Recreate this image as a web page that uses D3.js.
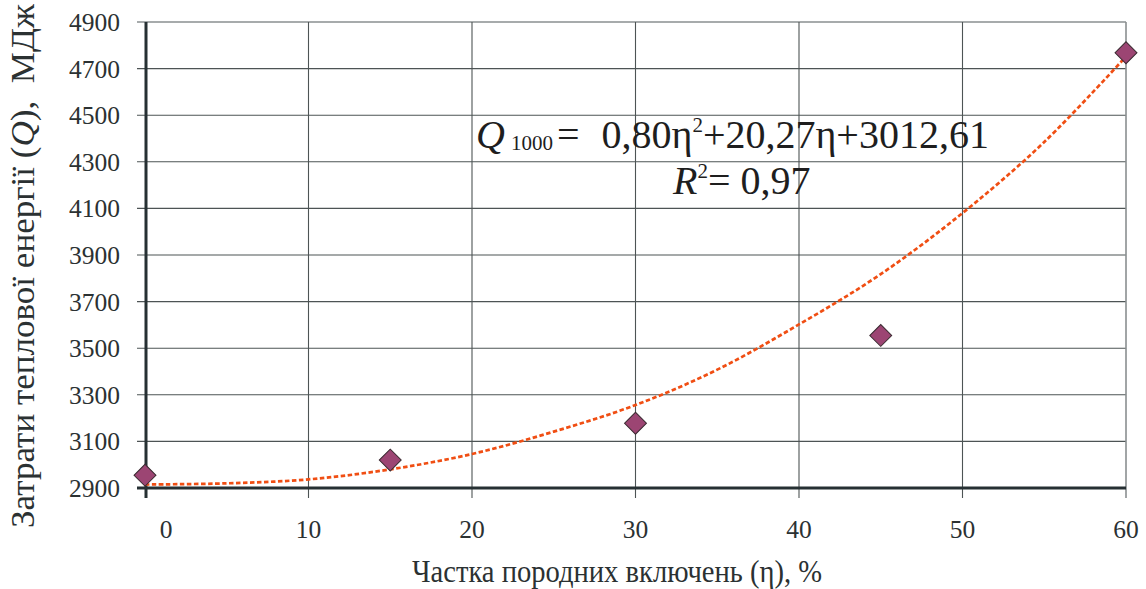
<!DOCTYPE html>
<html>
<head>
<meta charset="utf-8">
<script src="https://cdn.jsdelivr.net/npm/d3@7"></script>
<style>
  html, body { margin: 0; padding: 0; background: #fff; }
</style>
</head>
<body>
<svg id="chart" width="1146" height="589"></svg>
<script>
// ---- data ----
const etaValues = [0, 15, 30, 45, 60];
const qValues = [2955, 3020, 3178, 3555, 4768];
const trendEta = [0, 5, 10, 15, 20, 25, 30, 35, 40, 45, 50, 55, 60];
const trendQ = [2915, 2920, 2937, 2980, 3046, 3142, 3256, 3408, 3602, 3818, 4080, 4385, 4752];
const xTicks = [0, 10, 20, 30, 40, 50, 60];
const yTicks = [2900, 3100, 3300, 3500, 3700, 3900, 4100, 4300, 4500, 4700, 4900];
const xTitle = "Частка породних включень (η), %";

const FONT = "Liberation Serif";
const TXT = "#2b3132";
const svg = d3.select("#chart");
const x = d3.scaleLinear().domain([0, 60]).range([145, 1126]);
const y = d3.scaleLinear().domain([2900, 4900]).range([488, 22]);

// gridlines (extend outward as ticks)
const grid = svg.append("g");
grid.selectAll("line.h").data(yTicks).join("line")
  .attr("x1", 137).attr("x2", x(60))
  .attr("y1", d => y(d)).attr("y2", d => y(d))
  .attr("stroke", d => d === 4900 ? "#8a8f90" : "#4d5455")
  .attr("stroke-width", d => d === 4900 ? 1.6 : 1.1);
grid.selectAll("line.v").data(xTicks.filter(d => d > 0)).join("line")
  .attr("x1", d => x(d)).attr("x2", d => x(d))
  .attr("y1", y(4900)).attr("y2", 498)
  .attr("stroke", d => d === 60 ? "#8a8f90" : "#4d5455")
  .attr("stroke-width", d => d === 60 ? 1.6 : 1.1);

// axes lines
svg.append("line").attr("x1", 137).attr("x2", x(60)).attr("y1", y(2900)).attr("y2", y(2900))
  .attr("stroke", "#263033").attr("stroke-width", 3);
svg.append("line").attr("x1", x(0) + 1).attr("x2", x(0) + 1).attr("y1", y(4900)).attr("y2", 498)
  .attr("stroke", "#263033").attr("stroke-width", 3);

// tick labels
svg.append("g").selectAll("text").data(yTicks).join("text")
  .attr("font-family", FONT).attr("fill", TXT)
  .attr("x", 120).attr("y", d => y(d)).attr("dy", "0.35em")
  .attr("text-anchor", "end").attr("font-size", 25.5)
  .text(d => d);
svg.append("g").selectAll("text").data(xTicks).join("text")
  .attr("font-family", FONT).attr("fill", TXT)
  .attr("x", d => x(d) + (d === 0 ? 21 : 0)).attr("y", 538)
  .attr("text-anchor", "middle").attr("font-size", 25.5)
  .text(d => d);

// axis titles
svg.append("text")
  .attr("font-family", FONT).attr("fill", TXT)
  .attr("x", 617).attr("y", 582).attr("text-anchor", "middle")
  .attr("font-size", 32).attr("textLength", 410).attr("lengthAdjust", "spacingAndGlyphs")
  .text(xTitle);

const yt = svg.append("text")
  .attr("font-family", FONT).attr("fill", TXT)
  .attr("transform", "translate(34,266) rotate(-90)")
  .attr("text-anchor", "middle").attr("font-size", 33)
  .attr("textLength", 524).attr("lengthAdjust", "spacingAndGlyphs")
  .attr("xml:space", "preserve");
yt.append("tspan").text("Затрати теплової енергії (");
yt.append("tspan").attr("font-style", "italic").text("Q");
yt.append("tspan").text("),  МДж");

// trend line
const line = d3.line().x((d, i) => x(trendEta[i])).y(d => y(d)).curve(d3.curveCatmullRom);
svg.append("path").datum(trendQ).attr("d", line)
  .attr("fill", "none").attr("stroke", "#f04e13").attr("stroke-width", 2.7)
  .attr("stroke-dasharray", "4.5,2.5");

// markers
const sym = d3.symbol().type(d3.symbolSquare).size(240);
svg.append("g").selectAll("path").data(qValues).join("path")
  .attr("d", sym)
  .attr("transform", (d, i) => `translate(${x(etaValues[i])},${y(d)}) rotate(45)`)
  .attr("fill", "#9c4573").attr("stroke", "#3a2a30").attr("stroke-width", 1);

// equation
const eq1 = svg.append("text").attr("font-family", FONT).attr("fill", "#1e1e1e")
  .attr("x", 476).attr("y", 148).attr("font-size", 40);
eq1.append("tspan").attr("font-style", "italic").text("Q");
eq1.append("tspan").attr("font-size", 21).attr("dx", 6).attr("dy", 2).text("1000");
eq1.append("tspan").attr("dy", -2).attr("dx", 4).text("=");
eq1.append("tspan").attr("dx", 22).text("0,80η");
eq1.append("tspan").attr("font-size", 21).attr("dy", -16).text("2");
eq1.append("tspan").attr("dy", 16).text("+20,27η+3012,61");

const eq2 = svg.append("text").attr("font-family", FONT).attr("fill", "#1e1e1e")
  .attr("x", 673).attr("y", 194).attr("font-size", 40);
eq2.append("tspan").attr("font-style", "italic").text("R");
eq2.append("tspan").attr("font-size", 21).attr("dy", -16).text("2");
eq2.append("tspan").attr("dy", 16).text("= 0,97");
</script>
</body>
</html>
